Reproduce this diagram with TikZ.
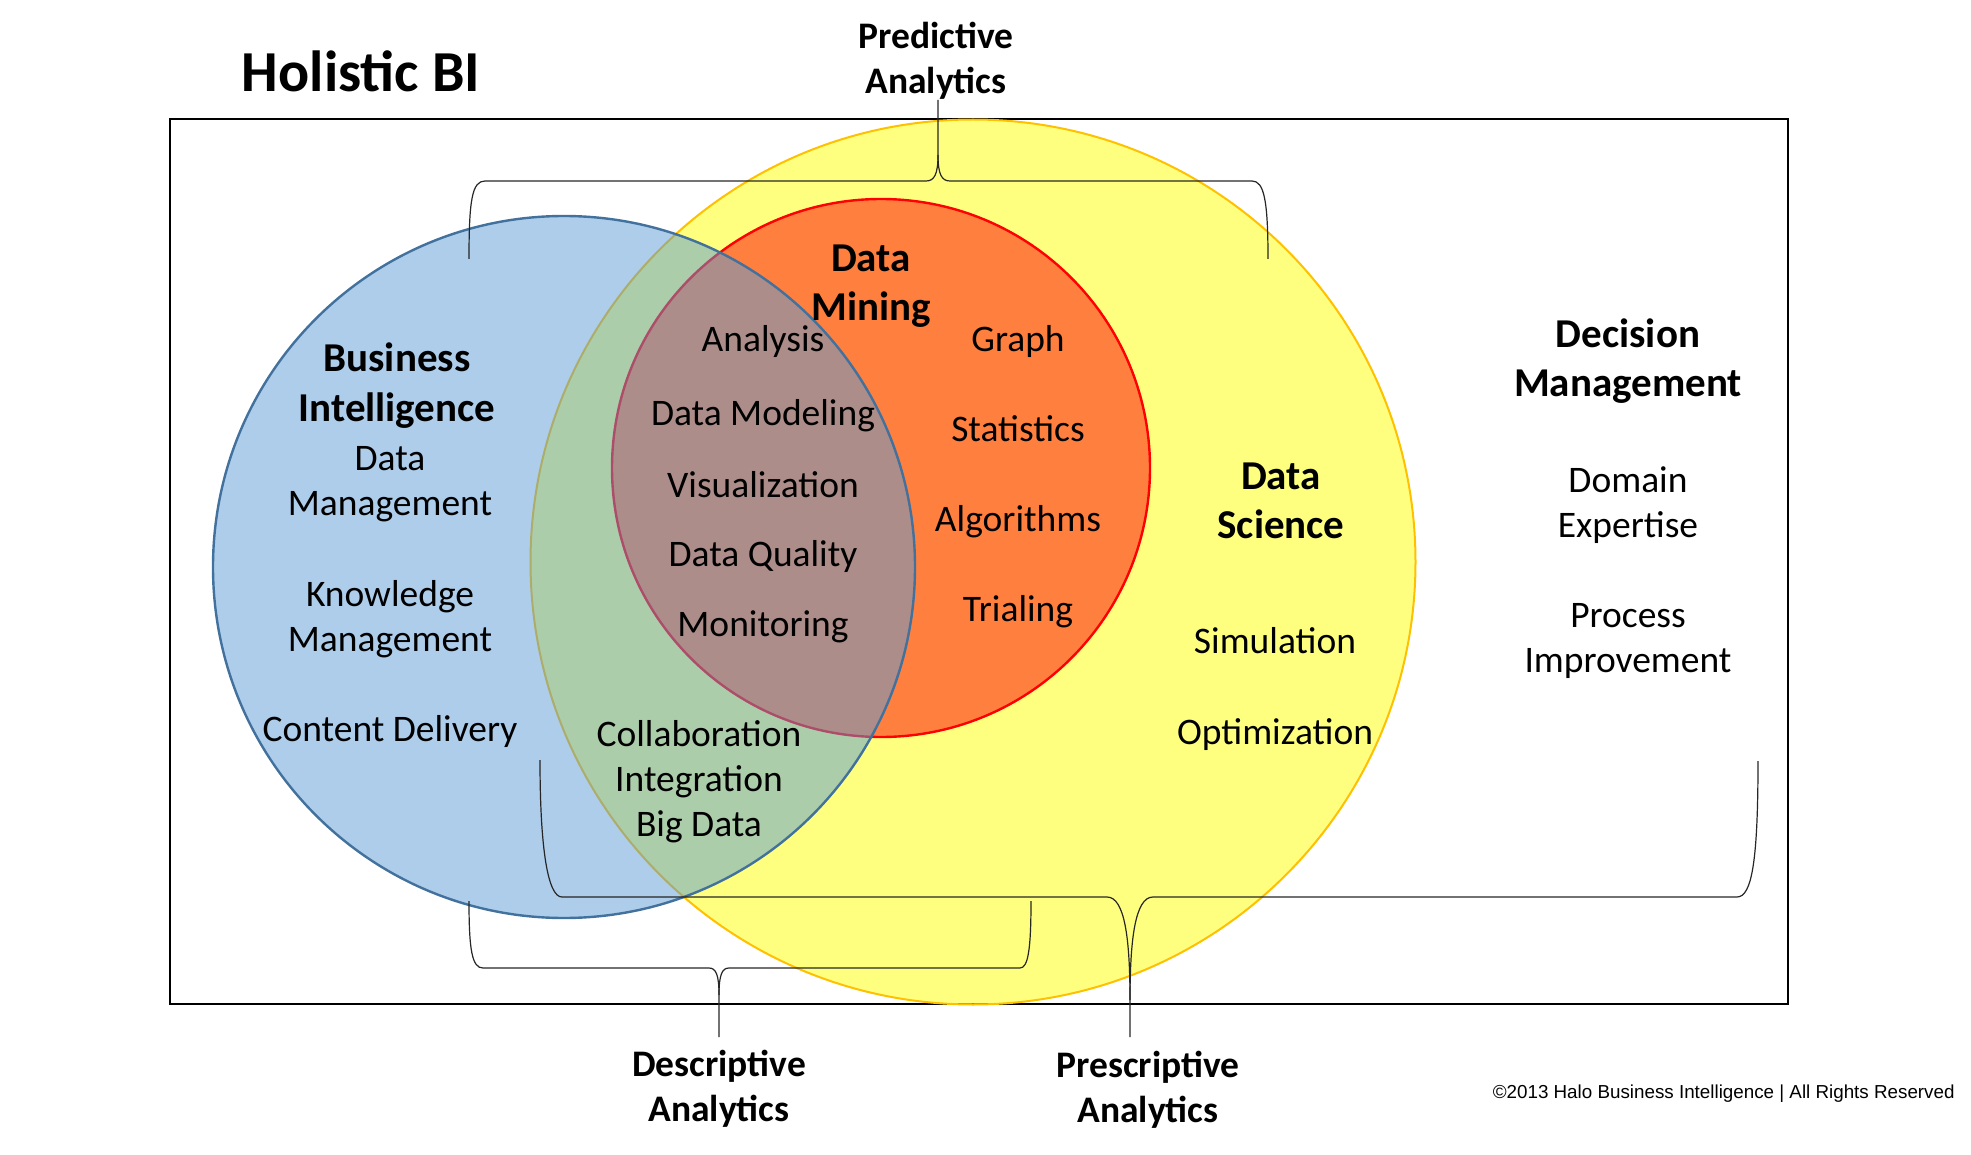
\documentclass[tikz,border=0pt]{standalone}
\usepackage{fontspec}
\setmainfont{Carlito}
\newfontfamily\arialfont{Liberation Sans}
\definecolor{bifill}{RGB}{91,155,213}
\definecolor{biline}{RGB}{65,113,156}
\definecolor{dsfill}{RGB}{255,255,0}
\definecolor{dsline}{RGB}{255,192,0}
\definecolor{dmfill}{RGB}{255,0,0}
\definecolor{dmline}{RGB}{255,0,0}
\begin{document}
\begin{tikzpicture}[x=0.5pt,y=-0.5pt,
  reg/.style={font=\fontsize{18.75}{22.5}\selectfont, align=center, inner sep=0pt},
  head/.style={font=\bfseries\fontsize{20.5}{24.6}\selectfont, align=center, inner sep=0pt},
  anal/.style={font=\bfseries\fontsize{18.75}{22.5}\selectfont, align=center, inner sep=0pt},
  bracepath/.style={draw=black!85, line width=0.6pt},
  frame/.style={draw=black, line width=1.1pt}]
\useasboundingbox (0,0) rectangle (1971,1155);

% frame
\draw[frame] (170,119) rectangle (1788,1004);

% circles
\path[fill=dsfill, fill opacity=0.5, draw=dsline, line width=1pt] (973,562) circle[radius=221.25pt];
\path[fill=dmfill, fill opacity=0.5, draw=dmline, line width=1.2pt] (881,468) circle[radius=134.5pt];
\path[fill=bifill, fill opacity=0.5, draw=biline, line width=1.2pt] (564,567) circle[radius=175.5pt];

% title
\node[font=\bfseries\fontsize{29}{34}\selectfont, inner sep=0pt] (title) at (361,71) {Holistic BI};

% headings
\node[head] (bi) at (397,385.5) {Business\\Intelligence};
\node[head] (dm) at (871,286) {Data\\Mining};
\node[head] (ds) at (1281,500.5) {Data\\Science};
\node[head] (dec) at (1628,361) {Decision\\Management};

% BI items
\node[reg] (bi1) at (390,484) {Data\\Management};
\node[reg] (bi2) at (390,619) {Knowledge\\Management};
\node[reg] (bi3) at (390,731) {Content Delivery};

% overlap items
\node[reg] (o1) at (763,341.5) {Analysis};
\node[reg] (o2) at (763,415.5) {Data Modeling};
\node[reg] (o3) at (763,485) {Visualization};
\node[reg] (o4) at (763,557) {Data Quality};
\node[reg] (o5) at (763,626.5) {Monitoring};
\node[reg] (o6) at (699,781.5) {Collaboration\\Integration\\Big Data};

% data mining items
\node[reg] (m1) at (1018,341.5) {Graph};
\node[reg] (m2) at (1018,429) {Statistics};
\node[reg] (m3) at (1018,521.5) {Algorithms};
\node[reg] (m4) at (1018,611.5) {Trialing};

% data science items
\node[reg] (s1) at (1275,641) {Simulation};
\node[reg] (s2) at (1275,734.5) {Optimization};

% decision management items
\node[reg] (d1) at (1628,505) {Domain\\Expertise};
\node[reg] (d2) at (1628,641) {Process\\Improvement};

% analytics labels
\node[anal] (pred) at (936,61) {Predictive\\Analytics};
\node[anal] (desc) at (719,1089) {Descriptive\\Analytics};
\node[anal] (presc) at (1148,1090) {Prescriptive\\Analytics};

% brace tips
\coordinate (predtip) at (938,100);
\coordinate (desctip) at (719,1037);
\coordinate (presctip) at (1130,1037);

% predictive brace
\draw[bracepath] (469,259) .. controls (469,200) and (472,181) .. (485,181) -- (926,181)
  .. controls (934,181) and (938,175) .. (938,155) -- (predtip);
\draw[bracepath] (938,155) .. controls (938,175) and (942,181) .. (950,181) -- (1252,181)
  .. controls (1264,181) and (1268,200) .. (1268,259);

% descriptive brace
\draw[bracepath] (469,901) .. controls (469,950) and (472,968) .. (483,968) -- (709,968)
  .. controls (716,968) and (719,975) .. (719,995) -- (desctip);
\draw[bracepath] (719,995) .. controls (719,975) and (722,968) .. (729,968) -- (1020,968)
  .. controls (1028,968) and (1031,950) .. (1031,901);

% prescriptive brace
\draw[bracepath] (540,760) .. controls (540,850) and (548,897) .. (562,897) -- (1107,897)
  .. controls (1125,897) and (1130,940) .. (1130,1000) -- (presctip);
\draw[bracepath] (1130,1000) .. controls (1130,940) and (1135,897) .. (1153,897) -- (1737,897)
  .. controls (1752,897) and (1758,860) .. (1758,761);

% copyright
\node[font=\arialfont\fontsize{9.4}{11}\selectfont, anchor=east, inner sep=0pt] (copy) at (1955,1094)
  {©2013 Halo Business Intelligence | All Rights Reserved};
\end{tikzpicture}
\end{document}
